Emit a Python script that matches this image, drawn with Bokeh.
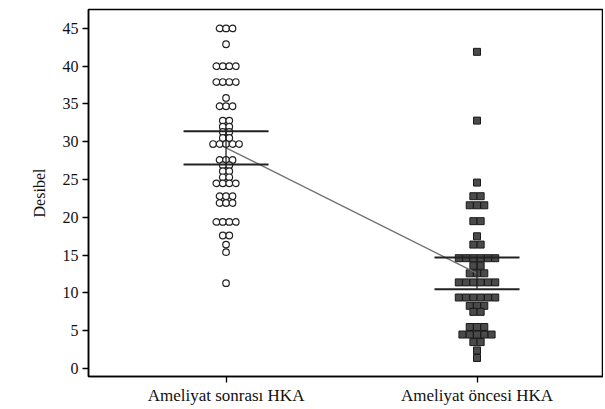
import numpy as np
from bokeh.plotting import figure
from bokeh.models import Range1d, FixedTicker, ColumnDataSource
from bokeh.embed import file_html
from bokeh.resources import INLINE

# ---- data ----
categories = ["Ameliyat sonrası HKA", "Ameliyat öncesi HKA"]
cat_pos = [1, 2]

# dot-plot rows: value of the row and number of dots in it
sonrasi_values = [45.0, 42.9, 40.0, 37.9, 35.8, 34.7, 32.8, 32.0, 31.3, 30.5, 29.7,
                  27.6, 26.9, 26.1, 25.3, 24.5, 22.8, 21.9, 19.4, 17.6, 16.4, 15.4, 11.3]
sonrasi_counts = [3, 1, 4, 4, 1, 3, 2, 2, 2, 2, 5,
                  3, 2, 2, 2, 4, 3, 3, 4, 2, 1, 1, 1]

oncesi_values = [41.9, 32.8, 24.6, 22.8, 21.6, 19.5, 17.5, 16.4, 14.6, 13.6, 12.6,
                 11.4, 9.4, 8.3, 7.5, 5.5, 4.5, 3.5, 2.4, 1.4]
oncesi_counts = [1, 1, 1, 2, 3, 2, 1, 2, 6, 2, 3,
                 6, 6, 3, 2, 3, 5, 2, 1, 1]

means = [29.2, 12.6]
ci_lower = [27.0, 10.5]
ci_upper = [31.4, 14.7]

y_ticks = [0, 5, 10, 15, 20, 25, 30, 35, 40, 45]

# ---- figure ----
FONT = "Liberation Serif"
p = figure(width=603, height=407, output_backend="svg", toolbar_location=None,
           x_range=Range1d(0.452, 2.504), y_range=Range1d(-1.05, 47.5),
           min_border_left=88, min_border_top=9, min_border_right=0, min_border_bottom=20)
p.grid.visible = False
p.outline_line_color = "black"
p.outline_line_width = 1.5
p.background_fill_color = "white"
p.border_fill_color = "white"

PX_PER_UNIT = 248.0


def stack(center, values, counts, step_px):
    xs, ys = [], []
    step = step_px / PX_PER_UNIT
    for v, n in zip(values, counts):
        for i in range(n):
            xs.append(center + (i - (n - 1) / 2.0) * step)
            ys.append(v)
    return xs, ys


xs1, ys1 = stack(cat_pos[0], sonrasi_values, sonrasi_counts, 6.4)
xs2, ys2 = stack(cat_pos[1], oncesi_values, oncesi_counts, 7.2)

p.scatter(xs1, ys1, marker="circle", size=6.6, fill_color="white",
          line_color="#222222", line_width=1.2)
p.scatter(xs2, ys2, marker="square", size=7, fill_color="#4a4a4a",
          line_color="#1a1a1a", line_width=1)

# connecting line between means
p.line(cat_pos, means, line_color="#6e6e6e", line_width=1.3)

# confidence interval bars
cap = 42.0 / PX_PER_UNIT
p.segment(x0=cat_pos, y0=ci_lower, x1=cat_pos, y1=ci_upper,
          line_color="#222222", line_width=1.3)
p.segment(x0=[c - cap for c in cat_pos], y0=ci_upper,
          x1=[c + cap for c in cat_pos], y1=ci_upper,
          line_color="#222222", line_width=2)
p.segment(x0=[c - cap for c in cat_pos], y0=ci_lower,
          x1=[c + cap for c in cat_pos], y1=ci_lower,
          line_color="#222222", line_width=2)

# axes
p.xaxis.ticker = FixedTicker(ticks=cat_pos)
p.xaxis.major_label_overrides = {c: lab for c, lab in zip(cat_pos, categories)}
p.yaxis.ticker = FixedTicker(ticks=y_ticks)
for ax in (p.xaxis[0], p.yaxis[0]):
    ax.axis_line_color = "black"
    ax.axis_line_width = 1.5
    ax.major_tick_line_color = "black"
    ax.major_tick_line_width = 1.3
    ax.major_tick_in = 0
    ax.major_tick_out = 6
    ax.minor_tick_line_color = None
    ax.major_label_text_font = FONT
    ax.major_label_text_color = "#111111"
p.xaxis.major_label_text_font_size = "17px"
p.yaxis.major_label_text_font_size = "16px"
p.xaxis.major_label_standoff = 3
p.yaxis.major_label_standoff = 4
p.yaxis.axis_label = "Desibel"
p.yaxis.axis_label_text_font = FONT
p.yaxis.axis_label_text_font_style = "normal"
p.yaxis.axis_label_text_font_size = "16px"
p.yaxis.axis_label_text_color = "#111111"
p.yaxis.axis_label_standoff = 12

open("out.html", "w").write(file_html(p, INLINE))
